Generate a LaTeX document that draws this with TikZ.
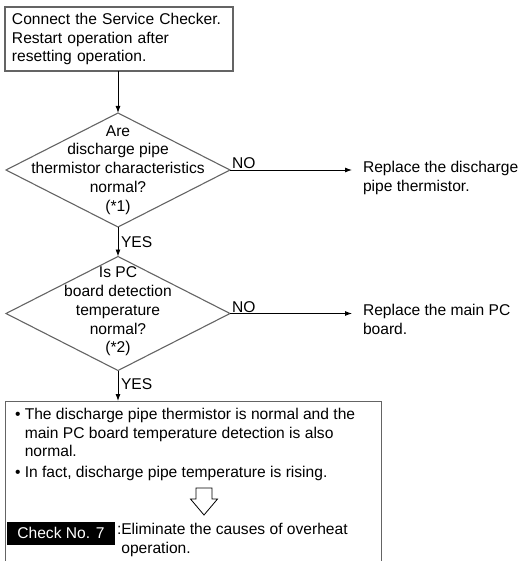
\documentclass[tikz,border=0pt]{standalone}
\usepackage{fontspec}
\setmainfont{Liberation Sans}
\usepackage{xcolor}
\usetikzlibrary{positioning,arrows.meta,shapes.geometric}
\definecolor{boxgray}{RGB}{100,100,100}
\tikzset{
  txt/.style={font=\fontsize{15.6}{18.8}\selectfont, inner sep=0pt, outer sep=0pt},
  stepbox/.style={txt, draw=boxgray, line width=1.3pt, align=left, anchor=north west,
                  text width=214pt, inner xsep=7pt, inner ysep=6pt},
  decision/.style={draw=boxgray, line width=1.1pt, diamond, minimum width=224pt,
                   minimum height=114pt, inner sep=0pt, outer sep=0pt},
  qtext/.style={txt, align=center},
  note/.style={txt, align=left, anchor=north west},
  answer/.style={txt, anchor=south west, inner xsep=2pt, inner ysep=1pt},
  checkbox/.style={txt, fill=black, text=white, minimum width=108pt, minimum height=23pt},
  arrow/.style={-{Latex[length=7pt,width=5pt]}, line width=0.9pt},
}

\begin{document}
\begin{tikzpicture}[x=1pt, y=-1pt]
  \clip (0,0) rectangle (527,561);
  \useasboundingbox (0,0) rectangle (527,561);

  \node[stepbox] (start) at (5,7) {Connect the Service Checker.\\Restart operation after\\resetting operation.};

  \node[decision] (q1) at (118,170) {};
  \node[qtext] (q1t) at (q1) {Are\\discharge pipe\\thermistor characteristics\\normal?\\(*1)};
  \node[note] (r1) at (363,161) {Replace the discharge\\pipe thermistor.};

  \node[decision] (q2) at (118,313.5) {};
  \node[qtext] (q2t) at ([yshift=2pt]q2) {Is PC\\board detection\\temperature\\normal?\\(*2)};
  \node[note] (r2) at (363,304) {Replace the main PC\\board.};

  \node[draw=boxgray, line width=1.3pt, anchor=north west, minimum width=376pt,
        minimum height=200pt, inner sep=0pt] (res) at (5,401) {};
  \node[note] (facts) at (15,408) {\textbullet\ The discharge pipe thermistor is normal and the\\
    \phantom{\textbullet\ }main PC board temperature detection is also\\
    \phantom{\textbullet\ }normal.\\[1.5pt]
    \textbullet\ In fact, discharge pipe temperature is rising.};
  \coordinate (hollow) at (204,488);
  \draw[line width=0.8pt, fill=white] (hollow) ++(-8,0) -- ++(16,0) -- ++(0,11) -- ++(5.5,0)
    -- (204,515) -- (190.5,499) -- (196,499) -- cycle;
  \node[checkbox, anchor=north west] (chk) at (7,521.5) {Check No. 7};
  \node[note] (fix) at (117,523) {:Eliminate the causes of overheat\\\phantom{:}operation.};

  \draw[arrow] (start.south -| q1) -- (q1.north);
  \draw[arrow, shorten >=11pt] (q1.east) -- (q1.east -| r1.west) node[answer, pos=0, anchor=south west] {NO};
  \draw[arrow] (q1.south) -- (q2.north) node[answer, pos=0.5, anchor=west, inner xsep=3pt] {YES};
  \draw[arrow, shorten >=11pt] (q2.east) -- (q2.east -| r2.west) node[answer, pos=0, anchor=south west] {NO};
  \draw[arrow] (q2.south) -- (res.north -| q2) node[answer, pos=0.45, anchor=west, inner xsep=3pt] {YES};
\end{tikzpicture}
\end{document}
